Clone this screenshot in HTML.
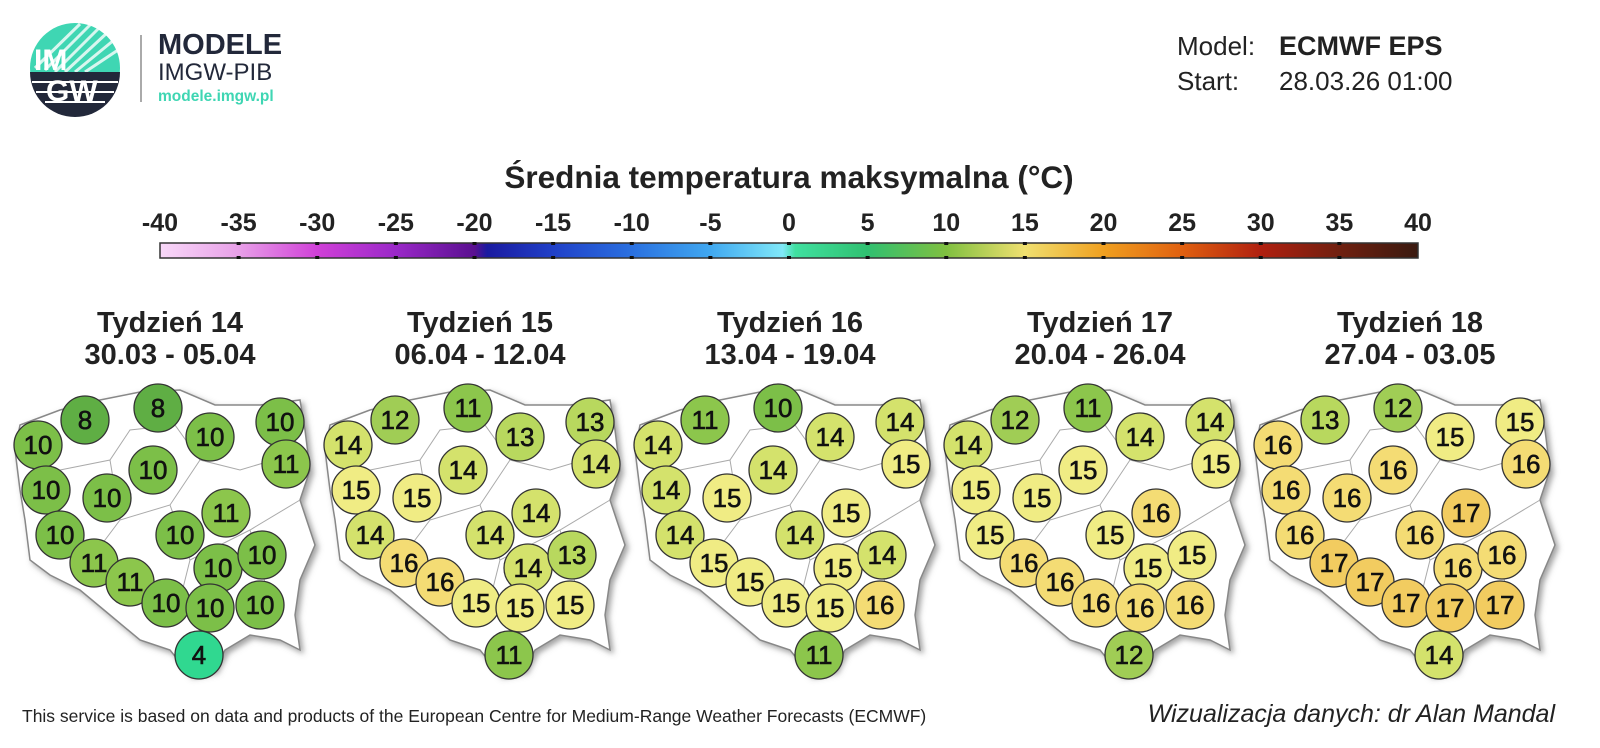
<!DOCTYPE html>
<html><head><meta charset="utf-8"><style>
body{margin:0;width:1600px;height:743px;background:#fff;overflow:hidden;font-family:"Liberation Sans",Arial,sans-serif;}
</style></head><body>
<svg width="1600" height="743" viewBox="0 0 1600 743" xmlns="http://www.w3.org/2000/svg" font-family="Liberation Sans, Arial, sans-serif">
<defs>
<linearGradient id="cb" x1="0" x2="1">
<stop offset="0" stop-color="#f8d8f8"/><stop offset="0.0625" stop-color="#e8a0e8"/><stop offset="0.125" stop-color="#d040d8"/><stop offset="0.1875" stop-color="#9a28c8"/><stop offset="0.25" stop-color="#5a1090"/><stop offset="0.26" stop-color="#1a1aa0"/><stop offset="0.3125" stop-color="#2040c8"/><stop offset="0.375" stop-color="#2a70e0"/><stop offset="0.4375" stop-color="#40a8f0"/><stop offset="0.495" stop-color="#80e8f8"/><stop offset="0.505" stop-color="#40e0a0"/><stop offset="0.5625" stop-color="#30c070"/><stop offset="0.625" stop-color="#80c040"/><stop offset="0.6875" stop-color="#f0e070"/><stop offset="0.75" stop-color="#f0a020"/><stop offset="0.8125" stop-color="#e06010"/><stop offset="0.875" stop-color="#b02010"/><stop offset="0.9375" stop-color="#702010"/><stop offset="1" stop-color="#3a1a10"/>
</linearGradient>
<filter id="sh" x="-10%" y="-10%" width="130%" height="130%"><feDropShadow dx="3" dy="3" stdDeviation="3" flood-color="#666" flood-opacity="0.6"/></filter>
<g id="pl"><path d="M20,425 L60,410 L100,400 L140,392 L180,390 L215,405 L260,405 L300,400 L305,430 L310,470 L300,500 L315,545 L300,580 L295,615 L300,650 L280,640 L250,635 L225,650 L215,670 L190,675 L170,650 L140,640 L110,615 L80,590 L50,575 L30,560 L25,520 L20,490 L15,450 Z" fill="#fff" stroke="#888" stroke-width="1.5" filter="url(#sh)"/>
<path d="M60,470 L110,460 L130,430 L175,425 L200,460 L240,470 L290,455 M110,460 L120,520 L90,560 M120,520 L170,505 L200,460 M170,505 L190,560 L250,530 L300,500 M190,560 L180,600 M250,530 L270,600" fill="none" stroke="#aaa" stroke-width="1"/></g>
</defs>
<!-- logo -->
<circle cx="75" cy="68" r="45" fill="#3fd6b3"/>
<g stroke="#fff" stroke-width="3" opacity="0.8">
<line x1="45" y1="70" x2="90" y2="25"/><line x1="55" y1="72" x2="100" y2="27"/><line x1="65" y1="72" x2="108" y2="32"/><line x1="75" y1="72" x2="114" y2="40"/><line x1="85" y1="72" x2="118" y2="50"/><line x1="35" y1="68" x2="80" y2="24"/>
</g>
<path d="M30,72 L120,72 A45,45 0 0 1 30,72 Z" fill="#22283a"/>
<g stroke="#fff" stroke-width="2"><line x1="32" y1="82" x2="118" y2="82"/><line x1="36" y1="92" x2="114" y2="92"/><line x1="45" y1="102" x2="105" y2="102"/></g>
<text x="34" y="70" font-size="30" font-weight="bold" fill="#fff">IM</text>
<text x="46" y="101" font-size="30" font-weight="bold" fill="#fff">GW</text>
<line x1="141" y1="35" x2="141" y2="102" stroke="#555" stroke-width="1"/>
<text x="158" y="54" font-size="29" font-weight="bold" fill="#22283a">MODELE</text>
<text x="158" y="80" font-size="24" fill="#22283a">IMGW-PIB</text>
<text x="158" y="101" font-size="15.5" font-weight="bold" fill="#3fd6b3">modele.imgw.pl</text>
<!-- header right -->
<text x="1177" y="55" font-size="26" fill="#222">Model:</text>
<text x="1279" y="55" font-size="27" font-weight="bold" fill="#222">ECMWF EPS</text>
<text x="1177" y="90" font-size="26" fill="#222">Start:</text>
<text x="1279" y="90" font-size="26" fill="#222">28.03.26 01:00</text>
<text x="789" y="188" font-size="31.5" font-weight="bold" fill="#222" text-anchor="middle">Średnia temperatura maksymalna (°C)</text>
<rect x="160" y="243" width="1258" height="15" fill="url(#cb)" stroke="#333" stroke-width="1.5"/>
<g font-size="25" font-weight="bold" fill="#222" text-anchor="middle" id="cbl"></g>
<g id="maps"></g>
<text x="22" y="722" font-size="17.5" fill="#222">This service is based on data and products of the European Centre for Medium-Range Weather Forecasts (ECMWF)</text>
<text x="1555" y="722" font-size="25" font-style="italic" fill="#222" text-anchor="end">Wizualizacja danych: dr Alan Mandal</text>
</svg>
<script>
var NS="http://www.w3.org/2000/svg";
function el(t,a,p,txt){var e=document.createElementNS(NS,t);for(var k in a)e.setAttribute(k,a[k]);if(txt!=null)e.textContent=txt;p.appendChild(e);return e;}
var cbl=document.getElementById('cbl');
for(var i=0;i<=16;i++){var x=160+i*1258/16;el('text',{x:x,y:231},cbl,String(-40+i*5));if(i>0&&i<16){el('rect',{x:x-2,y:242,width:4,height:3,fill:'#111'},cbl);el('rect',{x:x-2,y:256,width:4,height:3,fill:'#111'},cbl);}}
var st=[[38,445],[85,420],[158,408],[210,437],[280,422],[153,470],[286,464],[46,490],[107,498],[60,535],[226,513],[180,535],[94,563],[218,568],[262,555],[130,582],[166,603],[210,608],[260,605],[199,655]];
var v=[[10,14,14,14,16],[8,12,11,12,13],[8,11,10,11,12],[10,13,14,14,15],[10,13,14,14,15],[10,14,14,15,16],[11,14,15,15,16],[10,15,14,15,16],[10,15,15,15,16],[10,14,14,15,16],[11,14,15,16,17],[10,14,14,15,16],[11,16,15,16,17],[10,14,15,15,16],[10,13,14,15,16],[11,16,15,16,17],[10,15,15,16,17],[10,15,15,16,17],[10,15,16,16,17],[4,11,11,12,14]];
var col={4:'#30d890',8:'#5fae44',10:'#7cbf48',11:'#8cc64c',12:'#a0cd55',13:'#b8d85e',14:'#d4e26c',15:'#f0ec84',16:'#f4dc74',17:'#f2cc60'};
var titles=[['Tydzień 14','30.03 - 05.04'],['Tydzień 15','06.04 - 12.04'],['Tydzień 16','13.04 - 19.04'],['Tydzień 17','20.04 - 26.04'],['Tydzień 18','27.04 - 03.05']];
var maps=document.getElementById('maps');
for(var w=0;w<5;w++){var g=el('g',{transform:'translate('+(w*310)+',0)'},maps);
el('use',{href:'#pl'},g);
el('text',{x:170,y:332,'font-size':29,'font-weight':'bold','text-anchor':'middle',fill:'#222'},g,titles[w][0]);
el('text',{x:170,y:364,'font-size':29,'font-weight':'bold','text-anchor':'middle',fill:'#222'},g,titles[w][1]);
for(var s=0;s<st.length;s++){var val=v[s][w];
el('circle',{cx:st[s][0],cy:st[s][1],r:24,fill:col[val],stroke:'#333','stroke-width':1.3},g);
el('text',{x:st[s][0],y:st[s][1]+9,'font-size':26,'text-anchor':'middle',fill:'#111','stroke':'#111','stroke-width':0.6},g,String(val));}}
</script>
</body></html>
